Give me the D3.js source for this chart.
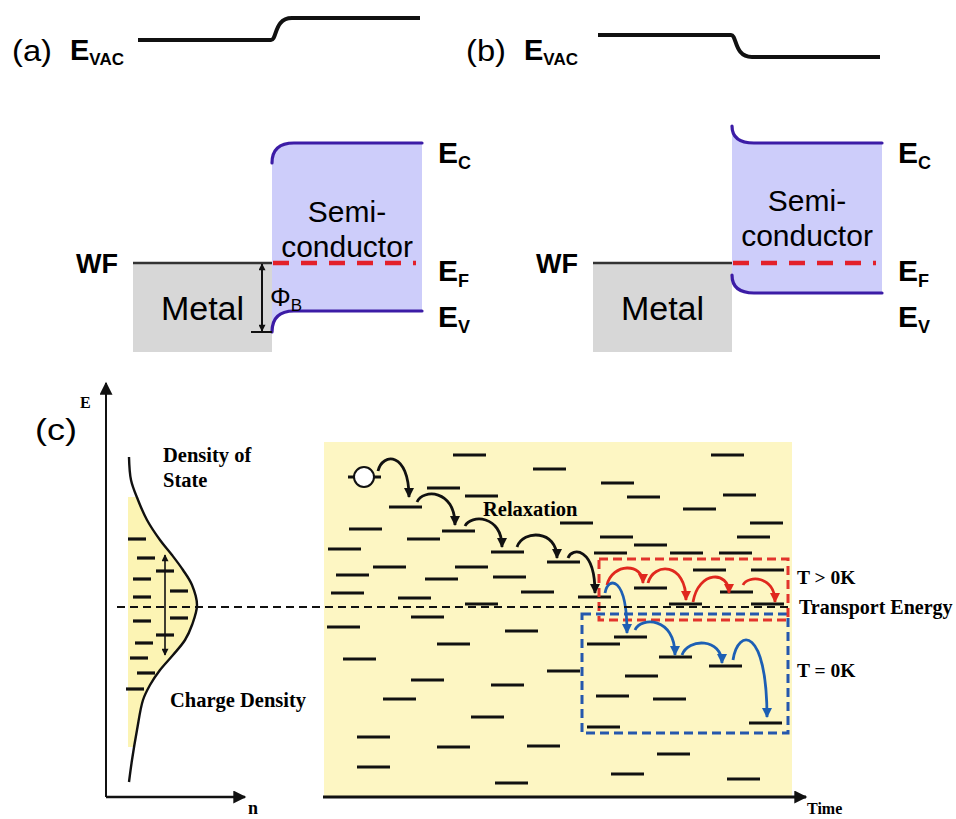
<!DOCTYPE html>
<html>
<head>
<meta charset="utf-8">
<script src="https://cdn.jsdelivr.net/npm/d3@7"></script>
<style>
  body { margin: 0; background: #fff; }
  svg { display: block; }
</style>
</head>
<body>
<svg id="fig" width="956" height="819"></svg>
<script>
// ================= Panels (a) and (b): metal / semiconductor contact =================
// Energies in diagram units measured from the Fermi level (positive = higher energy).
const bandPanelTags   = ["(a)", "(b)"];
const vacuumMetalSide = [223, 228];
const vacuumSemiSide  = [245, 206];
const conductionBulk  = [120, 120];
const conductionEdge  = [100, 137];   // E_C right at the interface
const valenceBulk     = [-48, -30];
const valenceEdge     = [-69, -12];   // E_V right at the interface
const metalBottom     = -89;
const fermiLevel      = 0;
const levelNames      = ["C", "F", "V"];
const barrierHeight   = [0, -69];     // Φ_B spans E_F down to the interface E_V

// ================= Panel (c): hopping in a Gaussian density of states =================
// Energy axis shared by both halves of (c); time / n in arbitrary units.
const dosCurve = [ // [E, n]
  [340, 23], [317, 25], [297, 32], [277, 41], [257, 54], [242, 66], [227, 77],
  [212, 86], [192, 91], [172, 86], [157, 79], [142, 67], [127, 54], [112, 44],
  [97, 37], [67, 31], [37, 26], [15, 23]
];
const dosLevels = [ // [n, E] occupied levels under the curve
  [22, 258], [31, 239], [50, 226], [27, 218], [64, 206], [27, 200], [64, 179],
  [27, 176], [50, 162], [29, 154], [24, 139], [31, 124], [20, 108]
];
const dosSpread = [242, 142];        // energy spread marked by the double arrow
const dosSpreadN = 59;

const siteLevels = [ // [t, E] localized sites
  [129, 342], [209, 328], [103, 309], [141, 301], [65, 290], [25, 268], [118, 266],
  [83, 258], [4, 248], [167, 245], [223, 235], [49, 230], [131, 230], [12, 222],
  [101, 218], [169, 220], [7, 204], [197, 205], [74, 199], [141, 193], [87, 180],
  [3, 170], [387, 342], [277, 314], [303, 300], [399, 302], [359, 288], [236, 274],
  [426, 274], [276, 260], [413, 260], [310, 252], [270, 244], [346, 244], [395, 244],
  [369, 227], [427, 227], [310, 209], [396, 205], [254, 200], [345, 193], [427, 193],
  [290, 160], [263, 153], [335, 140], [385, 131], [223, 126], [301, 121], [272, 101],
  [329, 98], [263, 70], [425, 74], [333, 43], [287, 23], [403, 18], [181, 166],
  [113, 153], [19, 138], [87, 117], [167, 112], [59, 98], [147, 80], [33, 60],
  [113, 50], [203, 51], [33, 30], [171, 14], [24, 320]
];
const electronSite = [40, 320];

// hops: [start [t,E], apex E, end [t,E]]
const relaxationHops = [
  [[54, 326], 338, [85, 300]],
  [[93, 295], 303, [131, 272]],
  [[141, 271], 278, [178, 250]],
  [[193, 250], 262, [233, 239]],
  [[244, 239], 245, [271, 204]]
];
const thermalHops = [
  [[283, 212], 229, [319, 214]],
  [[324, 214], 228, [362, 197]],
  [[369, 195], 220, [405, 204]],
  [[419, 212], 218, [451, 195]]
];
const zeroKelvinHops = [
  [[281, 204], 214, [303, 164]],
  [[311, 167], 175, [351, 142]],
  [[358, 142], 154, [398, 134]],
  [[409, 137], 157, [443, 80]]
];
const transportEnergy = 190;
const thermalWindow   = [[275, 238], [464, 177]];
const zeroKWindow     = [[258, 183], [464, 64]];

// ================================ drawing ================================
const svg = d3.select("#fig");
const SANS = "Liberation Sans, Arial, sans-serif";
const SERIF = "Liberation Serif, Times New Roman, serif";

const defs = svg.append("defs");
function arrowMarker(id, color, w, h) {
  defs.append("marker")
    .attr("id", id).attr("viewBox", "0 0 10 10")
    .attr("refX", 9).attr("refY", 5)
    .attr("markerUnits", "userSpaceOnUse")
    .attr("markerWidth", w).attr("markerHeight", h)
    .attr("orient", "auto-start-reverse")
    .append("path").attr("d", "M0,0 L10,5 L0,10 Z").attr("fill", color);
}
arrowMarker("headBlack", "#111", 11, 10);
arrowMarker("headRed", "#e0281e", 11, 10);
arrowMarker("headBlue", "#1d5fb4", 11, 10);
arrowMarker("headSmall", "#111", 8, 7);
arrowMarker("headAxis", "#111", 15, 13);

// ---------- (a) / (b) ----------
const bandOriginX = [133, 593];
const metalWidth = 139, semiWidth = 150, bendWidth = 22;
const yBand = d3.scaleLinear().domain([0, 100]).range([263, 163]);
const semiTextBase = [222, 211];
const tagX = [12, 466], evacX = [70, 524];
const levelLabelY = [163, 281, 327];

bandPanelTags.forEach((tag, i) => {
  const g = svg.append("g");
  const xB = d3.scaleLinear().domain([0, metalWidth + semiWidth])
    .range([bandOriginX[i], bandOriginX[i] + metalWidth + semiWidth]);
  const xj = xB(metalWidth), xe = xB(metalWidth + semiWidth);

  // metal block
  g.append("rect")
    .attr("x", xB(0)).attr("y", yBand(fermiLevel))
    .attr("width", xj - xB(0)).attr("height", yBand(metalBottom) - yBand(fermiLevel))
    .attr("fill", "#d7d7d7");
  g.append("line")
    .attr("x1", xB(0)).attr("x2", xj)
    .attr("y1", yBand(fermiLevel)).attr("y2", yBand(fermiLevel))
    .attr("stroke", "#333").attr("stroke-width", 2.5);

  // semiconductor body with bent bands
  const yCe = yBand(conductionEdge[i]), yCb = yBand(conductionBulk[i]);
  const yVe = yBand(valenceEdge[i]), yVb = yBand(valenceBulk[i]);
  const body = d3.path();
  body.moveTo(xj, yCe);
  body.quadraticCurveTo(xj, yCb, xj + bendWidth, yCb);
  body.lineTo(xe, yCb);
  body.lineTo(xe, yVb);
  body.lineTo(xj + bendWidth, yVb);
  body.quadraticCurveTo(xj, yVb, xj, yVe);
  body.closePath();
  g.append("path").attr("d", body.toString()).attr("fill", "#cdcdfa");

  [[yCe, yCb], [yVe, yVb]].forEach(([ye, yb]) => {
    const p = d3.path();
    p.moveTo(xj, ye);
    p.quadraticCurveTo(xj, yb, xj + bendWidth, yb);
    p.lineTo(xe, yb);
    g.append("path").attr("d", p.toString())
      .attr("fill", "none").attr("stroke", "#3c1ca6").attr("stroke-width", 3.2)
      .attr("stroke-linecap", "round");
  });

  // Fermi level in the semiconductor
  g.append("line")
    .attr("x1", xj + 1).attr("x2", xe - 6)
    .attr("y1", yBand(fermiLevel)).attr("y2", yBand(fermiLevel))
    .attr("stroke", "#e3202a").attr("stroke-width", 4.5)
    .attr("stroke-dasharray", "16 12");

  // vacuum level with its step at the interface
  const yM = yBand(vacuumMetalSide[i]), yS = yBand(vacuumSemiSide[i]);
  const vac = d3.path();
  vac.moveTo(xB(5), yM);
  vac.lineTo(xj - 1, yM);
  vac.bezierCurveTo(xj + 5, yM, xj + 2, yS, xj + 20, yS);
  vac.lineTo(xB(287), yS);
  g.append("path").attr("d", vac.toString())
    .attr("fill", "none").attr("stroke", "#111").attr("stroke-width", 4);

  // texts
  g.append("text").attr("x", tagX[i]).attr("y", 61)
    .attr("font-family", SANS).attr("font-size", 29)
    .attr("textLength", 40).attr("lengthAdjust", "spacingAndGlyphs").text(tag);
  const ev = g.append("text").attr("x", evacX[i]).attr("y", 60)
    .attr("font-family", SANS).attr("font-weight", "bold").attr("font-size", 29);
  ev.append("tspan").text("E");
  ev.append("tspan").attr("font-size", 17).attr("dy", 5).text("VAC");

  g.append("text").attr("x", xB(0) - 15).attr("y", 273)
    .attr("text-anchor", "end").attr("font-family", SANS)
    .attr("font-weight", "bold").attr("font-size", 27).text("WF");
  g.append("text").attr("x", (xB(0) + xj) / 2).attr("y", 320)
    .attr("text-anchor", "middle").attr("font-family", SANS)
    .attr("font-size", 34).text("Metal");
  g.append("text").attr("x", (xj + xe) / 2).attr("y", semiTextBase[i])
    .attr("text-anchor", "middle").attr("font-family", SANS)
    .attr("font-size", 30).text("Semi-");
  g.append("text").attr("x", (xj + xe) / 2).attr("y", semiTextBase[i] + 35)
    .attr("text-anchor", "middle").attr("font-family", SANS)
    .attr("font-size", 30).text("conductor");

  levelNames.forEach((nm, k) => {
    const t = g.append("text").attr("x", xe + 16).attr("y", levelLabelY[k])
      .attr("font-family", SANS).attr("font-weight", "bold").attr("font-size", 30);
    t.append("tspan").text("E");
    t.append("tspan").attr("font-size", 18).attr("dy", 6).text(nm);
  });

  // Schottky barrier height (only for the rectifying contact)
  if (i === 0) {
    const xa = xj - 10;
    g.append("line")
      .attr("x1", xj - 21).attr("x2", xj)
      .attr("y1", yBand(barrierHeight[1])).attr("y2", yBand(barrierHeight[1]))
      .attr("stroke", "#111").attr("stroke-width", 2);
    g.append("line")
      .attr("x1", xa).attr("x2", xa)
      .attr("y1", yBand(barrierHeight[0]) + 1).attr("y2", yBand(barrierHeight[1]) - 1)
      .attr("stroke", "#111").attr("stroke-width", 2)
      .attr("marker-start", "url(#headSmall)").attr("marker-end", "url(#headSmall)");
    const phi = g.append("text").attr("x", xj - 2).attr("y", 306)
      .attr("font-family", SANS).attr("font-size", 26);
    phi.append("tspan").text("Φ");
    phi.append("tspan").attr("font-size", 17).attr("dy", 5).text("B");
  }
});

// ---------- (c) ----------
const yE = d3.scaleLinear().domain([0, 355]).range([797, 442]);
const xT = d3.scaleLinear().domain([0, 468]).range([324, 792]);
const xN = d3.scaleLinear().domain([0, 139]).range([106, 245]);
const siteLen = 33, dosLen = 18;

// left: density of states
const gL = svg.append("g");
defs.append("clipPath").attr("id", "dosClip")
  .append("rect").attr("x", 100).attr("y", yE(300)).attr("width", 150)
  .attr("height", yE(50) - yE(300));
gL.append("path")
  .datum(dosCurve)
  .attr("d", d3.area().curve(d3.curveCatmullRom)
    .y(d => yE(d[0])).x0(xN(22)).x1(d => xN(d[1])))
  .attr("fill", "#fcf4b4").attr("clip-path", "url(#dosClip)");
gL.selectAll("line.dos").data(dosLevels).join("line")
  .attr("x1", d => xN(d[0])).attr("x2", d => xN(d[0] + dosLen))
  .attr("y1", d => yE(d[1])).attr("y2", d => yE(d[1]))
  .attr("stroke", "#111").attr("stroke-width", 3.2);
gL.append("line")
  .attr("x1", xN(dosSpreadN)).attr("x2", xN(dosSpreadN))
  .attr("y1", yE(dosSpread[0])).attr("y2", yE(dosSpread[1]))
  .attr("stroke", "#111").attr("stroke-width", 1.6)
  .attr("marker-start", "url(#headSmall)").attr("marker-end", "url(#headSmall)");
gL.append("path")
  .datum(dosCurve)
  .attr("d", d3.line().curve(d3.curveCatmullRom).x(d => xN(d[1])).y(d => yE(d[0])))
  .attr("fill", "none").attr("stroke", "#111").attr("stroke-width", 2.4);

// axes of the DOS plot
gL.append("line").attr("x1", xN(0)).attr("x2", xN(0))
  .attr("y1", yE(0)).attr("y2", yE(414)).attr("stroke", "#111").attr("stroke-width", 2)
  .attr("marker-end", "url(#headAxis)");
gL.append("line").attr("x1", xN(0)).attr("x2", xN(139))
  .attr("y1", yE(0)).attr("y2", yE(0)).attr("stroke", "#111").attr("stroke-width", 2.4)
  .attr("marker-end", "url(#headAxis)");

// right: sites and hopping in time
const gR = svg.append("g");
gR.append("rect").attr("x", xT(0)).attr("y", yE(355))
  .attr("width", xT(468) - xT(0)).attr("height", yE(0) - yE(355))
  .attr("fill", "#fdf6c3");
gR.selectAll("line.site").data(siteLevels).join("line")
  .attr("x1", d => xT(d[0])).attr("x2", d => xT(d[0] + siteLen))
  .attr("y1", d => yE(d[1])).attr("y2", d => yE(d[1]))
  .attr("stroke", "#111").attr("stroke-width", 3.2);

// transport energy across both halves
svg.append("line")
  .attr("x1", xN(11)).attr("x2", xT(468))
  .attr("y1", yE(transportEnergy)).attr("y2", yE(transportEnergy))
  .attr("stroke", "#111").attr("stroke-width", 2.2).attr("stroke-dasharray", "8 5");

// energy windows
[[zeroKWindow, "#2457ad"], [thermalWindow, "#e2342c"]].forEach(([w, c]) => {
  gR.append("rect")
    .attr("x", xT(w[0][0])).attr("y", yE(w[0][1]))
    .attr("width", xT(w[1][0]) - xT(w[0][0])).attr("height", yE(w[1][1]) - yE(w[0][1]))
    .attr("fill", "none").attr("stroke", c).attr("stroke-width", 3)
    .attr("stroke-dasharray", "9 5");
});

// electron
gR.append("circle").attr("cx", xT(electronSite[0])).attr("cy", yE(electronSite[1]))
  .attr("r", 10).attr("fill", "#fff").attr("stroke", "#111").attr("stroke-width", 2);

// hop arcs: cubic with vertical landing, control height solved to reach the apex
function hopPath(h) {
  const [s, apex, e] = h;
  const x0 = xT(s[0]), y0 = yE(s[1]), x3 = xT(e[0]), y3 = yE(e[1]), ya = yE(apex);
  const x1 = x0 + 0.15 * (x3 - x0);
  const peak = c => {
    let m = Infinity;
    for (let k = 0; k <= 50; k++) {
      const t = k / 50, u = 1 - t;
      m = Math.min(m, u * u * u * y0 + 3 * u * u * t * c + 3 * u * t * t * c + t * t * t * y3);
    }
    return m;
  };
  let lo = ya - 200, hi = ya;
  for (let k = 0; k < 40; k++) {
    const mid = (lo + hi) / 2;
    if (peak(mid) < ya) lo = mid; else hi = mid;
  }
  const c = (lo + hi) / 2;
  const p = d3.path();
  p.moveTo(x0, y0);
  p.bezierCurveTo(x1, c, x3, c, x3, y3);
  return p.toString();
}
[[relaxationHops, "#111", "headBlack"], [thermalHops, "#e0281e", "headRed"],
 [zeroKelvinHops, "#1d5fb4", "headBlue"]].forEach(([hops, c, m]) => {
  gR.selectAll(null).data(hops).join("path")
    .attr("d", hopPath).attr("fill", "none").attr("stroke", c)
    .attr("stroke-width", 2.8).attr("marker-end", `url(#${m})`);
});

// time axis
gR.append("line").attr("x1", xT(-1)).attr("x2", xT(482))
  .attr("y1", yE(0)).attr("y2", yE(0)).attr("stroke", "#111").attr("stroke-width", 3)
  .attr("marker-end", "url(#headAxis)");

// panel (c) texts
const txt = (x, y, s, size, fam, weight) => svg.append("text")
  .attr("x", x).attr("y", y).attr("font-family", fam).attr("font-size", size)
  .attr("font-weight", weight || "normal").text(s);
txt(35, 440, "(c)", 30, SANS).attr("textLength", 42).attr("lengthAdjust", "spacingAndGlyphs");
txt(80, 408, "E", 16, SERIF, "bold");
txt(248, 814, "n", 18, SERIF, "bold");
txt(163, 462, "Density of", 20.5, SERIF, "bold");
txt(163, 487, "State", 20.5, SERIF, "bold");
txt(170, 707, "Charge Density", 20.5, SERIF, "bold");
txt(483, 516, "Relaxation", 20.5, SERIF, "bold");
txt(797, 584, "T > 0K", 19.5, SERIF, "bold");
txt(799, 614, "Transport Energy", 20, SERIF, "bold");
txt(797, 677, "T = 0K", 19.5, SERIF, "bold");
txt(807, 814, "Time", 16, SERIF, "bold");
</script>
</body>
</html>
